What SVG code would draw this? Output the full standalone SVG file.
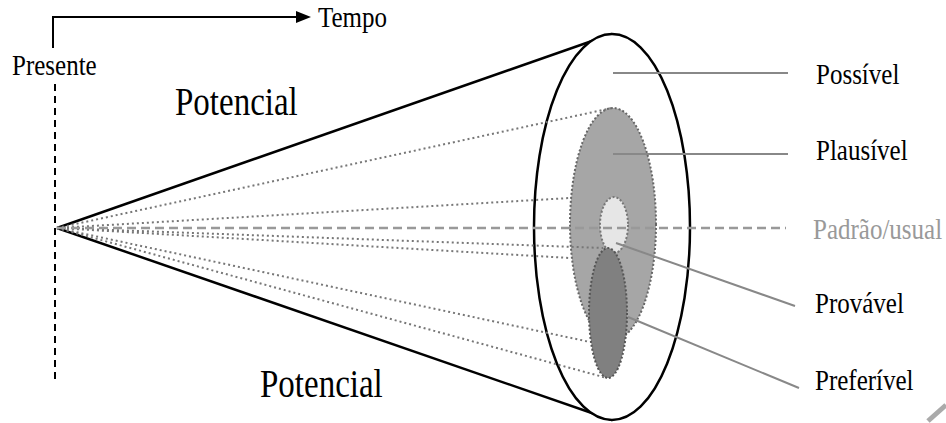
<svg xmlns="http://www.w3.org/2000/svg" width="946" height="423" viewBox="0 0 946 423">
<defs>
<style>
.t{font-family:'Liberation Serif','Times New Roman',Times,serif;fill:#000}
.lbl{font-size:25px}
.big{font-size:33px}
.dot{stroke:#777;stroke-width:2;stroke-dasharray:2 3;fill:none}
.lead{stroke:#888;stroke-width:2;fill:none}
</style>
</defs>
<rect width="946" height="423" fill="#fff"/>
<g id="connectors">
<path d="M53,48 V17 H298" stroke="#000" stroke-width="2" fill="none"/>
<polygon points="296,11 311,17 296,23" fill="#000"/>
<line x1="55" y1="84" x2="55" y2="380" stroke="#000" stroke-width="2" stroke-dasharray="7 5"/>
<line x1="57" y1="228" x2="612" y2="34" stroke="#000" stroke-width="2.5"/>
<line x1="57" y1="228" x2="612" y2="420" stroke="#000" stroke-width="2.5"/>
</g>
<g id="outer">
<ellipse cx="612" cy="227" rx="78" ry="193" fill="#fff" stroke="#000" stroke-width="2.5"/>
</g>
<g id="plausivel-area">
<ellipse cx="613" cy="224" rx="43" ry="116" fill="#a6a6a6" stroke="#666" stroke-width="2" stroke-dasharray="2 2"/>
</g>
<g id="padrao-area">
<ellipse cx="614" cy="225" rx="14" ry="28" fill="#e6e6e6" stroke="#777" stroke-width="2" stroke-dasharray="2 2"/>
</g>
<g id="preferivel-area">
<ellipse cx="608" cy="313" rx="19" ry="65" fill="#808080" stroke="#555" stroke-width="2" stroke-dasharray="2 2"/>
</g>
<g id="rays">
<line class="dot" x1="57" y1="228" x2="612" y2="108"/>
<line class="dot" x1="57" y1="228" x2="570" y2="198"/>
<line class="dot" x1="57" y1="228" x2="603" y2="248"/>
<line class="dot" x1="57" y1="228" x2="570" y2="258"/>
<line class="dot" x1="57" y1="228" x2="590" y2="342"/>
<line class="dot" x1="57" y1="228" x2="607" y2="378"/>
<line x1="57" y1="228" x2="786" y2="228" stroke="#999" stroke-width="2.5" stroke-dasharray="9 5"/>
</g>
<g id="leaders">
<line class="lead" x1="613" y1="73" x2="788" y2="73"/>
<line class="lead" x1="613" y1="154" x2="788" y2="154"/>
<line class="lead" x1="616" y1="243" x2="795" y2="306"/>
<line class="lead" x1="628" y1="317" x2="799" y2="388"/>
</g>
<g id="labels">
<text class="t lbl" font-family="Liberation Serif" transform="translate(318,27) scale(1,1.15)">Tempo</text>
<text class="t lbl" font-family="Liberation Serif" transform="translate(12,75) scale(1,1.15)">Presente</text>
<text class="t big" font-family="Liberation Serif" transform="translate(175,115) scale(1,1.2)">Potencial</text>
<text class="t big" font-family="Liberation Serif" transform="translate(260,397) scale(1,1.2)">Potencial</text>
<text class="t lbl" font-family="Liberation Serif" transform="translate(816,84) scale(1,1.15)">Possível</text>
<text class="t lbl" font-family="Liberation Serif" transform="translate(816,160) scale(1,1.15)">Plausível</text>
<text class="t lbl" font-family="Liberation Serif" transform="translate(813,239) scale(1,1.15)" style="fill:#999">Padrão/usual</text>
<text class="t lbl" font-family="Liberation Serif" transform="translate(815,313) scale(1,1.15)">Provável</text>
<text class="t lbl" font-family="Liberation Serif" transform="translate(815,390) scale(1,1.15)">Preferível</text>
</g>
<line x1="928" y1="421" x2="946" y2="405" stroke="#aaa" stroke-width="5"/>
</svg>
